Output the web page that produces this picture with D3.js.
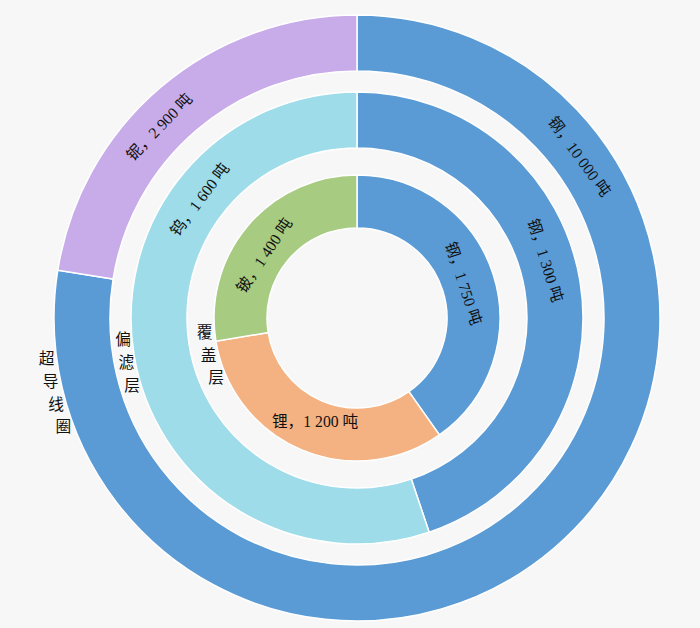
<!DOCTYPE html>
<html>
<head>
<meta charset="utf-8">
<script src="https://cdn.jsdelivr.net/npm/d3@7"></script>
<style>
  html, body { margin: 0; padding: 0; background: #f7f7f7; }
  svg { display: block; }
</style>
</head>
<body>
<div id="chart"></div>
<script>
// ring names (drawn along the left side of each ring)
const ringNames = ["超导线圈", "偏滤层", "覆盖层"];

// outer ring: 超导线圈
const outerNames = ["钢", "铌"];
const outerValues = [10000, 2900];
const outerLabels = ["钢，10 000 吨", "铌，2 900 吨"];

// middle ring: 偏滤层
const middleNames = ["钢", "钨"];
const middleValues = [1300, 1600];
const middleLabels = ["钢，1 300 吨", "钨，1 600 吨"];

// inner ring: 覆盖层 (arc sizes as drawn in the picture)
const innerNames = ["钢", "锂", "铍"];
const innerValues = [1750, 1400, 1200];
const innerLabels = ["钢，1 750 吨", "锂，1 200 吨", "铍，1 400 吨"];

const colors = {
    "钢": "#5a9bd5",
    "铌": "#c8acea",
    "钨": "#9ddce8",
    "锂": "#f4b282",
    "铍": "#a8cb82"
};

const width = 700, height = 628;
const cx = 357, cy = 318;
const font = "'Liberation Serif', 'Noto Sans CJK SC', serif";
const fontSize = 15.7;

// ring geometry + where each label sits (degrees clockwise from top)
const rings = [
    { names: outerNames, values: outerValues, labels: outerLabels,
      inner: 247, outer: 303, labelR: 275, labelAngles: [54, 314],
      nameR: 313, nameStart: 262.6 },
    { names: middleNames, values: middleValues, labels: middleLabels,
      inner: 170, outer: 226, labelR: 197, labelAngles: [73, 307],
      nameR: 235, nameStart: 264.7 },
    { names: innerNames, values: innerValues, labels: innerLabels,
      inner: 90, outer: 143, labelR: 112, labelAngles: [72, 202, 304],
      nameR: 153, nameStart: 264.7 }
];

const svg = d3.select("#chart").append("svg")
    .attr("width", width)
    .attr("height", height)
    .style("background", "#f7f7f7");

const g = svg.append("g").attr("transform", `translate(${cx},${cy})`);

const pie = d3.pie().sort(null).value(d => d.value);

rings.forEach((ring, ri) => {
    const data = ring.names.map((n, i) => ({ name: n, value: ring.values[i], label: ring.labels[i] }));
    const arcs = pie(data);
    const arc = d3.arc().innerRadius(ring.inner).outerRadius(ring.outer);

    const rg = g.append("g").attr("class", "ring");

    rg.selectAll("path")
        .data(arcs)
        .join("path")
        .attr("d", arc)
        .attr("fill", d => colors[d.data.name])
        .attr("stroke", "#fff")
        .attr("stroke-width", 1.5);

    // segment labels, tangential
    rg.selectAll("text.seg")
        .data(arcs)
        .join("text")
        .attr("class", "seg")
        .attr("transform", (d, i) => {
            const deg = ring.labelAngles[i];
            const a = deg * Math.PI / 180;
            const x = ring.labelR * Math.sin(a);
            const y = -ring.labelR * Math.cos(a);
            let rot = deg > 180 ? deg - 360 : deg;
            if (Math.abs(rot) > 90) rot = 0; // bottom labels stay upright
            return `translate(${x},${y}) rotate(${rot})`;
        })
        .attr("text-anchor", "middle")
        .attr("dominant-baseline", "central")
        .attr("font-family", font)
        .attr("font-size", fontSize)
        .attr("fill", "#111")
        .text(d => d.data.label);

    // ring name, one upright character at a time along the arc
    const chars = Array.from(ringNames[ri]);
    const step = 23.5 / ring.nameR * 180 / Math.PI;
    rg.selectAll("text.name")
        .data(chars)
        .join("text")
        .attr("class", "name")
        .attr("x", (c, i) => ring.nameR * Math.sin((ring.nameStart - i * step) * Math.PI / 180))
        .attr("y", (c, i) => -ring.nameR * Math.cos((ring.nameStart - i * step) * Math.PI / 180))
        .attr("text-anchor", "middle")
        .attr("dominant-baseline", "central")
        .attr("font-family", font)
        .attr("font-size", fontSize)
        .attr("fill", "#111")
        .text(c => c);
});
</script>
</body>
</html>
